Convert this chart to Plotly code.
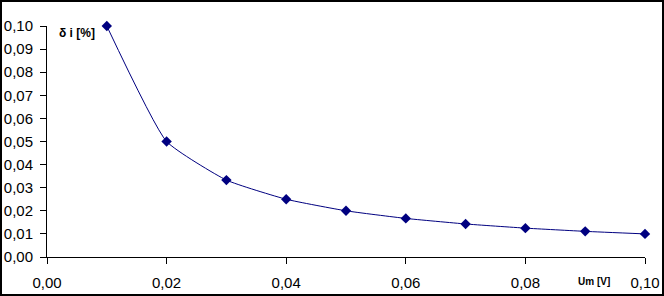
import plotly.graph_objects as go

um = [0.01, 0.02, 0.03, 0.04, 0.05, 0.06, 0.07, 0.08, 0.09, 0.10]
delta_i = [0.100, 0.050, 0.0333, 0.025, 0.020, 0.0167, 0.0143, 0.0125, 0.0111, 0.010]

W, H = 664, 296
L, R, T, B = 47, 19, 26, 39
pw, ph = W - L - R, H - T - B

fig = go.Figure()
fig.add_trace(go.Scatter(
    x=um, y=delta_i, mode="lines+markers", cliponaxis=False,
    line=dict(color="#000080", width=1, shape="spline", smoothing=0.45),
    marker=dict(symbol="diamond", size=8, color="#000080"),
    showlegend=False,
))

fig.update_layout(
    width=W, height=H,
    margin=dict(l=L, r=R, t=T, b=B, autoexpand=False),
    paper_bgcolor="white", plot_bgcolor="white",
    separators=",.",
    font=dict(family="Liberation Sans, Arial, sans-serif", size=15, color="black"),
    xaxis=dict(range=[0, 0.10], tickvals=[0, 0.02, 0.04, 0.06, 0.08, 0.10],
               tickformat=".2f", showgrid=False, zeroline=False, automargin=False,
               showline=True, linecolor="black", linewidth=1,
               ticks="outside", ticklen=6, tickcolor="black", tickwidth=1,
               ticklabelstandoff=6),
    yaxis=dict(range=[0, 0.10], dtick=0.01, tickformat=".2f", showgrid=False,
               zeroline=False, showline=True, linecolor="black", linewidth=1,
               automargin=False,
               ticks="outside", ticklen=6, tickcolor="black", tickwidth=1,
               ticklabelstandoff=4),
    shapes=[dict(type="rect", xref="paper", yref="paper",
                 x0=(1 - L) / pw, x1=(W - 1 - L) / pw,
                 y0=(T + ph - (H - 1)) / ph, y1=(T + ph - 1) / ph,
                 line=dict(color="black", width=2), fillcolor="rgba(0,0,0,0)")],
    annotations=[
        dict(text="<b>δ i [%]</b>", xref="paper", yref="paper",
             x=(57 - L) / pw, y=(T + ph - 33) / ph, xanchor="left", yanchor="middle",
             showarrow=False, font=dict(size=12)),
        dict(text="<b>Um [V]</b>", xref="paper", yref="paper",
             x=(576 - L) / pw, y=(T + ph - 281) / ph, xanchor="left", yanchor="middle",
             showarrow=False, font=dict(size=10)),
    ],
)

fig.write_html("out.html")
